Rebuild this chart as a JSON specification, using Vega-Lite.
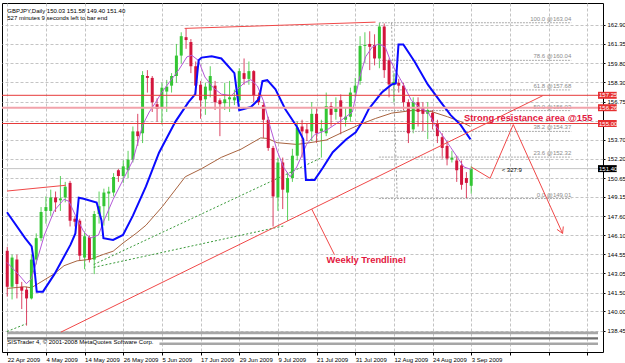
{
  "$schema": "https://vega.github.io/schema/vega-lite/v6.json",
  "width": 601,
  "height": 349,
  "autosize": {"type": "none"},
  "padding": {"left": 2, "top": 3, "right": 22, "bottom": 11},
  "background": "#ffffff",
  "config": {"view": {"stroke": "#000000", "strokeWidth": 1}, "font": "Liberation Sans",
    "axis": {"title": null, "labelOverlap": false, "labelBound": false, "labelFlush": false, "labelFont": "Liberation Sans", "labelFontSize": 6, "labelColor": "#000000", "tickColor": "#000000", "domain": false, "grid": true, "gridColor": "#c4c4c4", "gridDash": [3, 2]}},
  "datasets": {
    "candles": [
      {"i":0,"o":144.84,"h":145.15,"l":141.19,"c":141.97},
      {"i":1,"o":141.97,"h":144.53,"l":140.96,"c":144.30},
      {"i":2,"o":144.14,"h":144.53,"l":141.04,"c":142.20},
      {"i":3,"o":141.97,"h":142.36,"l":140.19,"c":141.66},
      {"i":4,"o":141.74,"h":141.97,"l":138.87,"c":141.04},
      {"i":5,"o":141.04,"h":144.53,"l":140.96,"c":144.14},
      {"i":6,"o":144.14,"h":146.23,"l":143.75,"c":145.85},
      {"i":7,"o":145.85,"h":148.33,"l":145.61,"c":147.94},
      {"i":8,"o":148.02,"h":149.18,"l":147.01,"c":148.33},
      {"i":9,"o":148.02,"h":149.72,"l":147.63,"c":149.10},
      {"i":10,"o":149.10,"h":149.57,"l":147.94,"c":148.71},
      {"i":11,"o":148.87,"h":150.81,"l":148.02,"c":149.02},
      {"i":12,"o":149.10,"h":150.34,"l":148.71,"c":149.95},
      {"i":13,"o":150.26,"h":150.42,"l":146.78,"c":147.24},
      {"i":14,"o":147.40,"h":147.63,"l":146.78,"c":147.16},
      {"i":15,"o":147.24,"h":147.40,"l":144.06,"c":144.45},
      {"i":16,"o":144.30,"h":146.39,"l":143.37,"c":146.00},
      {"i":17,"o":145.92,"h":146.08,"l":143.91,"c":144.14},
      {"i":18,"o":144.14,"h":148.02,"l":142.98,"c":147.78},
      {"i":19,"o":147.78,"h":149.57,"l":147.01,"c":148.40},
      {"i":20,"o":148.40,"h":149.80,"l":146.85,"c":149.49},
      {"i":21,"o":149.41,"h":149.95,"l":147.24,"c":149.57},
      {"i":22,"o":149.49,"h":151.04,"l":149.18,"c":150.73},
      {"i":23,"o":151.27,"h":151.43,"l":150.34,"c":150.81},
      {"i":24,"o":150.81,"h":152.05,"l":150.26,"c":151.58},
      {"i":25,"o":151.27,"h":152.82,"l":150.65,"c":152.12},
      {"i":26,"o":152.12,"h":154.76,"l":151.89,"c":154.37},
      {"i":27,"o":154.37,"h":155.77,"l":153.21,"c":153.99},
      {"i":28,"o":154.22,"h":159.18,"l":153.44,"c":158.87},
      {"i":29,"o":158.79,"h":159.26,"l":157.47,"c":158.64},
      {"i":30,"o":158.64,"h":158.79,"l":155.92,"c":156.70},
      {"i":31,"o":156.54,"h":157.01,"l":155.15,"c":156.16},
      {"i":32,"o":156.31,"h":158.25,"l":154.92,"c":157.86},
      {"i":33,"o":157.55,"h":158.48,"l":155.92,"c":157.94},
      {"i":34,"o":158.02,"h":159.02,"l":157.47,"c":158.79},
      {"i":35,"o":158.79,"h":161.35,"l":158.25,"c":160.42},
      {"i":36,"o":160.42,"h":162.28,"l":159.80,"c":161.97},
      {"i":37,"o":161.89,"h":162.59,"l":160.96,"c":161.66},
      {"i":38,"o":161.50,"h":161.74,"l":159.02,"c":159.57},
      {"i":39,"o":159.57,"h":159.95,"l":157.24,"c":158.02},
      {"i":40,"o":158.09,"h":158.40,"l":155.38,"c":156.85},
      {"i":41,"o":156.93,"h":158.25,"l":155.69,"c":157.94},
      {"i":42,"o":157.63,"h":159.57,"l":157.09,"c":158.79},
      {"i":43,"o":158.02,"h":158.40,"l":156.08,"c":156.70},
      {"i":44,"o":156.85,"h":157.01,"l":153.99,"c":156.54},
      {"i":45,"o":156.62,"h":158.25,"l":156.08,"c":156.93},
      {"i":46,"o":156.93,"h":158.40,"l":155.92,"c":157.09},
      {"i":47,"o":156.85,"h":157.70,"l":156.47,"c":157.09},
      {"i":48,"o":156.85,"h":159.41,"l":156.70,"c":159.18},
      {"i":49,"o":159.02,"h":160.19,"l":158.09,"c":158.56},
      {"i":50,"o":158.56,"h":159.95,"l":158.09,"c":159.18},
      {"i":51,"o":159.18,"h":159.26,"l":156.70,"c":157.24},
      {"i":52,"o":157.09,"h":157.47,"l":156.47,"c":156.70},
      {"i":53,"o":156.47,"h":156.70,"l":153.83,"c":155.30},
      {"i":54,"o":155.30,"h":155.54,"l":152.82,"c":153.05},
      {"i":55,"o":153.05,"h":153.21,"l":146.78,"c":149.18},
      {"i":56,"o":149.10,"h":152.28,"l":148.02,"c":151.89},
      {"i":57,"o":151.89,"h":152.28,"l":148.17,"c":149.72},
      {"i":58,"o":149.49,"h":151.12,"l":147.24,"c":150.65},
      {"i":59,"o":150.65,"h":152.98,"l":150.34,"c":152.43},
      {"i":60,"o":152.43,"h":155.15,"l":152.05,"c":154.68},
      {"i":61,"o":154.76,"h":155.30,"l":152.28,"c":154.37},
      {"i":62,"o":154.53,"h":154.99,"l":153.60,"c":154.22},
      {"i":63,"o":154.37,"h":156.70,"l":153.60,"c":155.77},
      {"i":64,"o":155.77,"h":156.31,"l":153.44,"c":154.22},
      {"i":65,"o":154.37,"h":155.30,"l":152.28,"c":154.60},
      {"i":66,"o":154.22,"h":157.47,"l":153.99,"c":156.39},
      {"i":67,"o":156.39,"h":156.70,"l":154.76,"c":155.69},
      {"i":68,"o":155.92,"h":157.09,"l":155.30,"c":156.23},
      {"i":69,"o":156.85,"h":157.32,"l":154.14,"c":155.54},
      {"i":70,"o":155.30,"h":156.31,"l":154.76,"c":155.54},
      {"i":71,"o":155.54,"h":157.86,"l":155.15,"c":157.47},
      {"i":72,"o":157.47,"h":158.64,"l":157.09,"c":158.02},
      {"i":73,"o":158.40,"h":161.97,"l":158.09,"c":161.19},
      {"i":74,"o":161.19,"h":162.28,"l":159.80,"c":161.27},
      {"i":75,"o":161.35,"h":162.36,"l":159.26,"c":161.12},
      {"i":76,"o":161.27,"h":162.12,"l":159.64,"c":160.19},
      {"i":77,"o":160.19,"h":163.04,"l":159.41,"c":162.74},
      {"i":78,"o":162.74,"h":162.98,"l":158.64,"c":159.26},
      {"i":79,"o":160.05,"h":160.19,"l":157.09,"c":158.12},
      {"i":80,"o":158.09,"h":159.02,"l":156.70,"c":158.33},
      {"i":81,"o":158.25,"h":158.56,"l":157.47,"c":158.02},
      {"i":82,"o":158.02,"h":158.25,"l":156.08,"c":156.70},
      {"i":83,"o":156.70,"h":156.93,"l":153.44,"c":154.22},
      {"i":84,"o":154.53,"h":157.09,"l":154.22,"c":156.70},
      {"i":85,"o":156.70,"h":157.09,"l":154.76,"c":155.92},
      {"i":86,"o":156.31,"h":156.70,"l":154.37,"c":155.77},
      {"i":87,"o":155.77,"h":156.70,"l":153.75,"c":156.08},
      {"i":88,"o":155.85,"h":156.08,"l":154.53,"c":155.15},
      {"i":89,"o":154.99,"h":155.30,"l":153.44,"c":153.99},
      {"i":90,"o":153.91,"h":154.22,"l":152.20,"c":153.05},
      {"i":91,"o":153.21,"h":153.60,"l":151.66,"c":152.20},
      {"i":92,"o":152.12,"h":152.82,"l":151.89,"c":152.28},
      {"i":93,"o":152.05,"h":152.43,"l":150.34,"c":151.27},
      {"i":94,"o":151.66,"h":152.05,"l":149.72,"c":150.11},
      {"i":95,"o":150.65,"h":151.12,"l":149.02,"c":150.26},
      {"i":96,"o":150.03,"h":151.58,"l":149.40,"c":151.40}
    ],
    "blue": [
      {"i":-0.05,"p":147.92},{"i":3.7,"p":145.85},{"i":5.05,"p":145.20},{"i":5.4,"p":144.30},
      {"i":6.1,"p":141.58},{"i":7.4,"p":141.58},{"i":9.8,"p":143.00},{"i":13.1,"p":145.33},
      {"i":14.1,"p":146.23},{"i":14.8,"p":149.08},{"i":15.8,"p":149.00},{"i":18.5,"p":148.69},
      {"i":19.5,"p":147.26},{"i":19.9,"p":145.85},{"i":21.9,"p":145.71},{"i":23.95,"p":146.10},
      {"i":26.0,"p":147.65},{"i":28.7,"p":149.98},{"i":31.4,"p":152.67},{"i":34.8,"p":155.15},
      {"i":37.5,"p":156.70},{"i":38.9,"p":157.34},{"i":39.6,"p":160.05},{"i":40.2,"p":160.26},
      {"i":42.3,"p":160.37},{"i":44.3,"p":160.19},{"i":47.0,"p":159.02},{"i":48.0,"p":156.06},
      {"i":50.4,"p":156.31},{"i":52.1,"p":156.95},{"i":52.8,"p":158.38},{"i":53.8,"p":158.46},
      {"i":55.5,"p":157.73},{"i":57.5,"p":156.16},{"i":59.9,"p":154.76},{"i":61.25,"p":153.75},
      {"i":61.8,"p":150.50},{"i":63.6,"p":150.50},{"i":65.3,"p":151.47},{"i":67.35,"p":152.71},
      {"i":70.1,"p":153.73},{"i":72.1,"p":154.30},{"i":73.5,"p":155.15},{"i":74.8,"p":156.16},
      {"i":77.5,"p":157.47},{"i":79.55,"p":158.12},{"i":80.4,"p":158.20},{"i":80.95,"p":161.31},
      {"i":81.95,"p":161.31},{"i":84.3,"p":159.93},{"i":87.0,"p":158.12},{"i":89.7,"p":156.70},
      {"i":91.75,"p":155.67},{"i":93.8,"p":154.89},{"i":95.85,"p":153.73}
    ],
    "violet": [
      {"i":-0.05,"p":143.91},{"i":2.25,"p":142.99},{"i":3.96,"p":142.22},{"i":4.97,"p":142.59},
      {"i":6.32,"p":144.30},{"i":7.68,"p":146.10},{"i":9.72,"p":148.04},{"i":11.75,"p":148.95},
      {"i":12.77,"p":148.79},{"i":14.13,"p":147.65},{"i":15.82,"p":146.37},{"i":17.18,"p":145.85},
      {"i":18.87,"p":146.10},{"i":19.89,"p":147.14},{"i":21.92,"p":148.95},{"i":23.96,"p":150.50},
      {"i":25.99,"p":152.05},{"i":28.03,"p":154.89},{"i":29.39,"p":155.92},{"i":30.73,"p":156.70},
      {"i":31.95,"p":157.47},{"i":33.46,"p":158.25},{"i":35.49,"p":159.28},{"i":37.18,"p":160.32},
      {"i":38.2,"p":160.44},{"i":39.56,"p":160.03},{"i":40.9,"p":158.71},{"i":42.61,"p":157.86},
      {"i":44.3,"p":157.34},{"i":46.34,"p":157.22},{"i":47.7,"p":157.73},{"i":49.04,"p":158.25},
      {"i":50.41,"p":158.50},{"i":51.77,"p":157.99},{"i":53.11,"p":156.70},{"i":54.48,"p":154.63},
      {"i":55.84,"p":152.82},{"i":57.18,"p":151.50},{"i":58.54,"p":150.75},{"i":59.9,"p":151.53},
      {"i":61.94,"p":153.34},{"i":63.63,"p":154.12},{"i":66.0,"p":154.45},{"i":68.72,"p":155.15},
      {"i":71.42,"p":155.92},{"i":72.79,"p":158.50},{"i":74.15,"p":160.32},{"i":75.49,"p":161.09},
      {"i":76.86,"p":161.35},{"i":78.22,"p":161.09},{"i":79.24,"p":160.05},{"i":80.25,"p":159.28},
      {"i":81.94,"p":158.12},{"i":83.63,"p":156.83},{"i":85.66,"p":156.18},{"i":87.03,"p":155.92},
      {"i":88.72,"p":154.76},{"i":90.43,"p":153.85},{"i":91.77,"p":153.08},{"i":93.13,"p":152.30},
      {"i":94.5,"p":151.53},{"i":95.98,"p":151.33}
    ],
    "brown": [
      {"i":-0.05,"p":141.84},{"i":3.61,"p":141.97},{"i":4.97,"p":141.89},{"i":7.01,"p":142.36},
      {"i":9.72,"p":143.00},{"i":11.75,"p":143.65},{"i":14.46,"p":144.04},{"i":17.18,"p":144.16},
      {"i":19.89,"p":144.55},{"i":21.92,"p":144.81},{"i":23.96,"p":145.46},{"i":26.66,"p":146.23},
      {"i":28.7,"p":146.88},{"i":32.1,"p":148.37},{"i":36.84,"p":150.75},{"i":40.23,"p":151.40},
      {"i":44.3,"p":152.30},{"i":48.37,"p":152.95},{"i":52.44,"p":153.85},{"i":53.8,"p":153.81},
      {"i":55.84,"p":153.47},{"i":59.9,"p":153.33},{"i":62.61,"p":153.47},{"i":66.0,"p":153.68},
      {"i":69.39,"p":154.30},{"i":72.79,"p":154.89},{"i":76.18,"p":155.40},{"i":79.56,"p":155.83},
      {"i":84.32,"p":156.06},{"i":87.7,"p":155.96},{"i":91.1,"p":155.54},{"i":93.81,"p":155.15},
      {"i":95.84,"p":154.76}
    ],
    "greens": [
      {"id":"g1","i":17.9,"p":143.75},{"id":"g1","i":65.1,"p":152.28},
      {"id":"g2","i":17.9,"p":143.52},{"id":"g2","i":57.5,"p":146.85},
      {"id":"g3","i":-0.05,"p":138.40},{"id":"g3","i":3.96,"p":139.02}
    ],
    "redlines": [
      {"id":"trend","i":11.1,"p":138.35},{"id":"trend","i":110.8,"p":157.22},
      {"id":"pointer","i":63.0,"p":148.17},{"id":"pointer","i":67.7,"p":144.53},
      {"id":"top","i":36.7,"p":162.59},{"id":"top","i":76.2,"p":163.09},
      {"id":"left","i":-0.05,"p":149.61},{"id":"left","i":12.1,"p":150.07},
      {"id":"zigzag","i":96.0,"p":151.53},{"id":"zigzag","i":99.9,"p":150.63},
      {"id":"zigzag","i":104.7,"p":154.92},{"id":"zigzag","i":114.9,"p":146.23},
      {"id":"wing1","i":114.9,"p":146.23},{"id":"wing1","i":115.05,"p":146.78},
      {"id":"wing2","i":113.74,"p":146.55},{"id":"wing2","i":114.9,"p":146.23}
    ],
    "fib": [
      {"i1":76.9,"i2":116.7,"p":163.04,"label":"100.0 @163.04"},
      {"i1":76.9,"i2":116.7,"p":160.04,"label":"78.6 @160.04"},
      {"i1":76.9,"i2":116.7,"p":157.68,"label":"61.8 @157.68"},
      {"i1":76.9,"i2":116.7,"p":156.03,"label":"50.0 @156.03"},
      {"i1":76.9,"i2":116.7,"p":154.37,"label":"38.2 @154.37"},
      {"i1":76.9,"i2":116.7,"p":152.32,"label":"23.6 @152.32"},
      {"i1":76.9,"i2":116.7,"p":149.01,"label":"0.0 @149.01"}
    ],
    "fibtrend": [{"i":79.5,"p":163.04},{"i":80.7,"p":149.01}],
    "stripes": [
      {"i1":-0.05,"i2":122.23,"p1":138.19,"p2":138.40,"band":"light"},
      {"i1":-0.05,"i2":122.23,"p1":137.76,"p2":137.94,"band":"dark"},
      {"i1":31.5,"i2":122.23,"p1":137.32,"p2":137.53,"band":"light"}
    ],
    "tags": [
      {"p":157.25,"label":"157.25","kind":"line"},
      {"p":156.26,"label":"156.26","kind":"line"},
      {"p":155.00,"label":"155.00","kind":"line"},
      {"p":151.40,"label":"151.40","kind":"bid"}
    ]
  },
  "layer": [
    {
      "data": {"name": "candles"},
      "mark": {"type": "rule", "strokeWidth": 1, "opacity": 0.8},
      "encoding": {
        "x": {"field": "i", "type": "quantitative", "scale": {"domain": [-0.05, 122.23], "nice": false, "zero": false},
          "axis": {"orient": "bottom", "values": [0, 8, 16, 24, 32, 40, 48, 56, 64, 72, 80, 88, 96, 104, 112, 120], "labelExpr": "['22 Apr 2009','4 May 2009','14 May 2009','26 May 2009','5 Jun 2009','17 Jun 2009','29 Jun 2009','9 Jul 2009','21 Jul 2009','31 Jul 2009','12 Aug 2009','24 Aug 2009','3 Sep 2009','','',''][round(datum.value/8)]", "labelAlign": "left", "labelBaseline": "top", "labelPadding": 1, "labelOverlap": false, "tickSize": 3, "title": null}},
        "y": {"field": "l", "type": "quantitative", "scale": {"domain": [137.163, 164.218], "nice": false, "zero": false},
          "axis": {"orient": "right", "values": [162.9, 161.35, 159.8, 158.3, 156.75, 155.2, 153.7, 152.2, 150.65, 149.15, 147.6, 146.1, 144.55, 143.05, 141.5, 140, 138.45], "labelExpr": "datum.value == 155.2 ? '' : format(datum.value, '.2f')", "labelAlign": "left", "labelBaseline": "middle", "labelPadding": 2, "labelOverlap": false, "tickSize": 2, "title": null}},
        "y2": {"field": "h"},
        "color": {"condition": {"test": "datum.c >= datum.o", "value": "#33c633"}, "value": "#d3153c"}
      }
    },
    {
      "data": {"name": "stripes"},
      "mark": {"type": "rect"},
      "encoding": {
        "x": {"field": "i1", "type": "quantitative", "scale": {"domain": [-0.05, 122.23], "nice": false, "zero": false},
          "axis": {"orient": "bottom", "values": [0, 8, 16, 24, 32, 40, 48, 56, 64, 72, 80, 88, 96, 104, 112, 120], "labelExpr": "['22 Apr 2009','4 May 2009','14 May 2009','26 May 2009','5 Jun 2009','17 Jun 2009','29 Jun 2009','9 Jul 2009','21 Jul 2009','31 Jul 2009','12 Aug 2009','24 Aug 2009','3 Sep 2009','','',''][round(datum.value/8)]", "labelAlign": "left", "labelBaseline": "top", "labelPadding": 1, "labelOverlap": false, "tickSize": 3, "title": null}},
        "x2": {"field": "i2"},
        "y": {"field": "p1", "type": "quantitative", "scale": {"domain": [137.163, 164.218], "nice": false, "zero": false},
          "axis": {"orient": "right", "values": [162.9, 161.35, 159.8, 158.3, 156.75, 155.2, 153.7, 152.2, 150.65, 149.15, 147.6, 146.1, 144.55, 143.05, 141.5, 140, 138.45], "labelExpr": "datum.value == 155.2 ? '' : format(datum.value, '.2f')", "labelAlign": "left", "labelBaseline": "middle", "labelPadding": 2, "labelOverlap": false, "tickSize": 2, "title": null}},
        "y2": {"field": "p2"},
        "color": {"field": "band", "type": "nominal", "scale": {"domain": ["light", "dark"], "range": ["#a6a6a6", "#6f6f6f"]}, "legend": null}
      }
    },
    {
      "data": {"name": "fib"},
      "mark": {"type": "rule", "color": "#ababab", "strokeDash": [2, 1], "strokeWidth": 1},
      "encoding": {
        "x": {"field": "i1", "type": "quantitative", "scale": {"domain": [-0.05, 122.23], "nice": false, "zero": false},
          "axis": {"orient": "bottom", "values": [0, 8, 16, 24, 32, 40, 48, 56, 64, 72, 80, 88, 96, 104, 112, 120], "labelExpr": "['22 Apr 2009','4 May 2009','14 May 2009','26 May 2009','5 Jun 2009','17 Jun 2009','29 Jun 2009','9 Jul 2009','21 Jul 2009','31 Jul 2009','12 Aug 2009','24 Aug 2009','3 Sep 2009','','',''][round(datum.value/8)]", "labelAlign": "left", "labelBaseline": "top", "labelPadding": 1, "labelOverlap": false, "tickSize": 3, "title": null}},
        "x2": {"field": "i2"},
        "y": {"field": "p", "type": "quantitative", "scale": {"domain": [137.163, 164.218], "nice": false, "zero": false},
          "axis": {"orient": "right", "values": [162.9, 161.35, 159.8, 158.3, 156.75, 155.2, 153.7, 152.2, 150.65, 149.15, 147.6, 146.1, 144.55, 143.05, 141.5, 140, 138.45], "labelExpr": "datum.value == 155.2 ? '' : format(datum.value, '.2f')", "labelAlign": "left", "labelBaseline": "middle", "labelPadding": 2, "labelOverlap": false, "tickSize": 2, "title": null}}
      }
    },
    {
      "data": {"name": "fib"},
      "mark": {"type": "text", "align": "right", "baseline": "bottom", "dy": -1, "fontSize": 6, "font": "Liberation Sans", "color": "#8c8c8c"},
      "encoding": {
        "x": {"field": "i2", "type": "quantitative", "scale": {"domain": [-0.05, 122.23], "nice": false, "zero": false},
          "axis": {"orient": "bottom", "values": [0, 8, 16, 24, 32, 40, 48, 56, 64, 72, 80, 88, 96, 104, 112, 120], "labelExpr": "['22 Apr 2009','4 May 2009','14 May 2009','26 May 2009','5 Jun 2009','17 Jun 2009','29 Jun 2009','9 Jul 2009','21 Jul 2009','31 Jul 2009','12 Aug 2009','24 Aug 2009','3 Sep 2009','','',''][round(datum.value/8)]", "labelAlign": "left", "labelBaseline": "top", "labelPadding": 1, "labelOverlap": false, "tickSize": 3, "title": null}},
        "y": {"field": "p", "type": "quantitative", "scale": {"domain": [137.163, 164.218], "nice": false, "zero": false},
          "axis": {"orient": "right", "values": [162.9, 161.35, 159.8, 158.3, 156.75, 155.2, 153.7, 152.2, 150.65, 149.15, 147.6, 146.1, 144.55, 143.05, 141.5, 140, 138.45], "labelExpr": "datum.value == 155.2 ? '' : format(datum.value, '.2f')", "labelAlign": "left", "labelBaseline": "middle", "labelPadding": 2, "labelOverlap": false, "tickSize": 2, "title": null}},
        "text": {"field": "label"}
      }
    },
    {
      "data": {"name": "fibtrend"},
      "mark": {"type": "line", "color": "#a0a0a0", "strokeDash": [2, 2], "strokeWidth": 1},
      "encoding": {
        "x": {"field": "i", "type": "quantitative", "scale": {"domain": [-0.05, 122.23], "nice": false, "zero": false},
          "axis": {"orient": "bottom", "values": [0, 8, 16, 24, 32, 40, 48, 56, 64, 72, 80, 88, 96, 104, 112, 120], "labelExpr": "['22 Apr 2009','4 May 2009','14 May 2009','26 May 2009','5 Jun 2009','17 Jun 2009','29 Jun 2009','9 Jul 2009','21 Jul 2009','31 Jul 2009','12 Aug 2009','24 Aug 2009','3 Sep 2009','','',''][round(datum.value/8)]", "labelAlign": "left", "labelBaseline": "top", "labelPadding": 1, "labelOverlap": false, "tickSize": 3, "title": null}},
        "y": {"field": "p", "type": "quantitative", "scale": {"domain": [137.163, 164.218], "nice": false, "zero": false},
          "axis": {"orient": "right", "values": [162.9, 161.35, 159.8, 158.3, 156.75, 155.2, 153.7, 152.2, 150.65, 149.15, 147.6, 146.1, 144.55, 143.05, 141.5, 140, 138.45], "labelExpr": "datum.value == 155.2 ? '' : format(datum.value, '.2f')", "labelAlign": "left", "labelBaseline": "middle", "labelPadding": 2, "labelOverlap": false, "tickSize": 2, "title": null}}
      }
    },
    {
      "data": {"values": [{"p": 151.40}]},
      "mark": {"type": "rule", "color": "#c4c4c4", "strokeWidth": 1},
      "encoding": {
        "y": {"field": "p", "type": "quantitative", "scale": {"domain": [137.163, 164.218], "nice": false, "zero": false},
          "axis": {"orient": "right", "values": [162.9, 161.35, 159.8, 158.3, 156.75, 155.2, 153.7, 152.2, 150.65, 149.15, 147.6, 146.1, 144.55, 143.05, 141.5, 140, 138.45], "labelExpr": "datum.value == 155.2 ? '' : format(datum.value, '.2f')", "labelAlign": "left", "labelBaseline": "middle", "labelPadding": 2, "labelOverlap": false, "tickSize": 2, "title": null}}
      }
    },
    {
      "data": {"name": "brown"},
      "mark": {"type": "line", "color": "#a8633f", "strokeWidth": 1},
      "encoding": {
        "x": {"field": "i", "type": "quantitative", "scale": {"domain": [-0.05, 122.23], "nice": false, "zero": false},
          "axis": {"orient": "bottom", "values": [0, 8, 16, 24, 32, 40, 48, 56, 64, 72, 80, 88, 96, 104, 112, 120], "labelExpr": "['22 Apr 2009','4 May 2009','14 May 2009','26 May 2009','5 Jun 2009','17 Jun 2009','29 Jun 2009','9 Jul 2009','21 Jul 2009','31 Jul 2009','12 Aug 2009','24 Aug 2009','3 Sep 2009','','',''][round(datum.value/8)]", "labelAlign": "left", "labelBaseline": "top", "labelPadding": 1, "labelOverlap": false, "tickSize": 3, "title": null}},
        "y": {"field": "p", "type": "quantitative", "scale": {"domain": [137.163, 164.218], "nice": false, "zero": false},
          "axis": {"orient": "right", "values": [162.9, 161.35, 159.8, 158.3, 156.75, 155.2, 153.7, 152.2, 150.65, 149.15, 147.6, 146.1, 144.55, 143.05, 141.5, 140, 138.45], "labelExpr": "datum.value == 155.2 ? '' : format(datum.value, '.2f')", "labelAlign": "left", "labelBaseline": "middle", "labelPadding": 2, "labelOverlap": false, "tickSize": 2, "title": null}}
      }
    },
    {
      "data": {"name": "greens"},
      "mark": {"type": "line", "color": "#3a9a3a", "strokeDash": [2, 2], "strokeWidth": 1},
      "encoding": {
        "x": {"field": "i", "type": "quantitative", "scale": {"domain": [-0.05, 122.23], "nice": false, "zero": false},
          "axis": {"orient": "bottom", "values": [0, 8, 16, 24, 32, 40, 48, 56, 64, 72, 80, 88, 96, 104, 112, 120], "labelExpr": "['22 Apr 2009','4 May 2009','14 May 2009','26 May 2009','5 Jun 2009','17 Jun 2009','29 Jun 2009','9 Jul 2009','21 Jul 2009','31 Jul 2009','12 Aug 2009','24 Aug 2009','3 Sep 2009','','',''][round(datum.value/8)]", "labelAlign": "left", "labelBaseline": "top", "labelPadding": 1, "labelOverlap": false, "tickSize": 3, "title": null}},
        "y": {"field": "p", "type": "quantitative", "scale": {"domain": [137.163, 164.218], "nice": false, "zero": false},
          "axis": {"orient": "right", "values": [162.9, 161.35, 159.8, 158.3, 156.75, 155.2, 153.7, 152.2, 150.65, 149.15, 147.6, 146.1, 144.55, 143.05, 141.5, 140, 138.45], "labelExpr": "datum.value == 155.2 ? '' : format(datum.value, '.2f')", "labelAlign": "left", "labelBaseline": "middle", "labelPadding": 2, "labelOverlap": false, "tickSize": 2, "title": null}},
        "detail": {"field": "id"}
      }
    },
    {
      "data": {"name": "candles"},
      "mark": {"type": "bar", "size": 3},
      "encoding": {
        "x": {"field": "i", "type": "quantitative", "scale": {"domain": [-0.05, 122.23], "nice": false, "zero": false},
          "axis": {"orient": "bottom", "values": [0, 8, 16, 24, 32, 40, 48, 56, 64, 72, 80, 88, 96, 104, 112, 120], "labelExpr": "['22 Apr 2009','4 May 2009','14 May 2009','26 May 2009','5 Jun 2009','17 Jun 2009','29 Jun 2009','9 Jul 2009','21 Jul 2009','31 Jul 2009','12 Aug 2009','24 Aug 2009','3 Sep 2009','','',''][round(datum.value/8)]", "labelAlign": "left", "labelBaseline": "top", "labelPadding": 1, "labelOverlap": false, "tickSize": 3, "title": null}},
        "y": {"field": "o", "type": "quantitative", "scale": {"domain": [137.163, 164.218], "nice": false, "zero": false},
          "axis": {"orient": "right", "values": [162.9, 161.35, 159.8, 158.3, 156.75, 155.2, 153.7, 152.2, 150.65, 149.15, 147.6, 146.1, 144.55, 143.05, 141.5, 140, 138.45], "labelExpr": "datum.value == 155.2 ? '' : format(datum.value, '.2f')", "labelAlign": "left", "labelBaseline": "middle", "labelPadding": 2, "labelOverlap": false, "tickSize": 2, "title": null}},
        "y2": {"field": "c"},
        "color": {"condition": {"test": "datum.c >= datum.o", "value": "#33c633"}, "value": "#d3153c"}
      }
    },
    {
      "data": {"name": "violet"},
      "mark": {"type": "line", "color": "#b45ad8", "strokeWidth": 1},
      "encoding": {
        "x": {"field": "i", "type": "quantitative", "scale": {"domain": [-0.05, 122.23], "nice": false, "zero": false},
          "axis": {"orient": "bottom", "values": [0, 8, 16, 24, 32, 40, 48, 56, 64, 72, 80, 88, 96, 104, 112, 120], "labelExpr": "['22 Apr 2009','4 May 2009','14 May 2009','26 May 2009','5 Jun 2009','17 Jun 2009','29 Jun 2009','9 Jul 2009','21 Jul 2009','31 Jul 2009','12 Aug 2009','24 Aug 2009','3 Sep 2009','','',''][round(datum.value/8)]", "labelAlign": "left", "labelBaseline": "top", "labelPadding": 1, "labelOverlap": false, "tickSize": 3, "title": null}},
        "y": {"field": "p", "type": "quantitative", "scale": {"domain": [137.163, 164.218], "nice": false, "zero": false},
          "axis": {"orient": "right", "values": [162.9, 161.35, 159.8, 158.3, 156.75, 155.2, 153.7, 152.2, 150.65, 149.15, 147.6, 146.1, 144.55, 143.05, 141.5, 140, 138.45], "labelExpr": "datum.value == 155.2 ? '' : format(datum.value, '.2f')", "labelAlign": "left", "labelBaseline": "middle", "labelPadding": 2, "labelOverlap": false, "tickSize": 2, "title": null}}
      }
    },
    {
      "data": {"name": "blue"},
      "mark": {"type": "line", "color": "#0a0aff", "strokeWidth": 2},
      "encoding": {
        "x": {"field": "i", "type": "quantitative", "scale": {"domain": [-0.05, 122.23], "nice": false, "zero": false},
          "axis": {"orient": "bottom", "values": [0, 8, 16, 24, 32, 40, 48, 56, 64, 72, 80, 88, 96, 104, 112, 120], "labelExpr": "['22 Apr 2009','4 May 2009','14 May 2009','26 May 2009','5 Jun 2009','17 Jun 2009','29 Jun 2009','9 Jul 2009','21 Jul 2009','31 Jul 2009','12 Aug 2009','24 Aug 2009','3 Sep 2009','','',''][round(datum.value/8)]", "labelAlign": "left", "labelBaseline": "top", "labelPadding": 1, "labelOverlap": false, "tickSize": 3, "title": null}},
        "y": {"field": "p", "type": "quantitative", "scale": {"domain": [137.163, 164.218], "nice": false, "zero": false},
          "axis": {"orient": "right", "values": [162.9, 161.35, 159.8, 158.3, 156.75, 155.2, 153.7, 152.2, 150.65, 149.15, 147.6, 146.1, 144.55, 143.05, 141.5, 140, 138.45], "labelExpr": "datum.value == 155.2 ? '' : format(datum.value, '.2f')", "labelAlign": "left", "labelBaseline": "middle", "labelPadding": 2, "labelOverlap": false, "tickSize": 2, "title": null}}
      }
    },
    {
      "data": {"values": [{"p": 156.26}]},
      "mark": {"type": "rule", "color": "#f2a3ab", "strokeWidth": 2},
      "encoding": {
        "y": {"field": "p", "type": "quantitative", "scale": {"domain": [137.163, 164.218], "nice": false, "zero": false},
          "axis": {"orient": "right", "values": [162.9, 161.35, 159.8, 158.3, 156.75, 155.2, 153.7, 152.2, 150.65, 149.15, 147.6, 146.1, 144.55, 143.05, 141.5, 140, 138.45], "labelExpr": "datum.value == 155.2 ? '' : format(datum.value, '.2f')", "labelAlign": "left", "labelBaseline": "middle", "labelPadding": 2, "labelOverlap": false, "tickSize": 2, "title": null}}
      }
    },
    {
      "data": {"values": [{"p": 157.25}, {"p": 155.00}]},
      "mark": {"type": "rule", "color": "#e63a3a", "strokeWidth": 1},
      "encoding": {
        "y": {"field": "p", "type": "quantitative", "scale": {"domain": [137.163, 164.218], "nice": false, "zero": false},
          "axis": {"orient": "right", "values": [162.9, 161.35, 159.8, 158.3, 156.75, 155.2, 153.7, 152.2, 150.65, 149.15, 147.6, 146.1, 144.55, 143.05, 141.5, 140, 138.45], "labelExpr": "datum.value == 155.2 ? '' : format(datum.value, '.2f')", "labelAlign": "left", "labelBaseline": "middle", "labelPadding": 2, "labelOverlap": false, "tickSize": 2, "title": null}}
      }
    },
    {
      "data": {"name": "redlines"},
      "mark": {"type": "line", "color": "#f04848", "strokeWidth": 1},
      "encoding": {
        "x": {"field": "i", "type": "quantitative", "scale": {"domain": [-0.05, 122.23], "nice": false, "zero": false},
          "axis": {"orient": "bottom", "values": [0, 8, 16, 24, 32, 40, 48, 56, 64, 72, 80, 88, 96, 104, 112, 120], "labelExpr": "['22 Apr 2009','4 May 2009','14 May 2009','26 May 2009','5 Jun 2009','17 Jun 2009','29 Jun 2009','9 Jul 2009','21 Jul 2009','31 Jul 2009','12 Aug 2009','24 Aug 2009','3 Sep 2009','','',''][round(datum.value/8)]", "labelAlign": "left", "labelBaseline": "top", "labelPadding": 1, "labelOverlap": false, "tickSize": 3, "title": null}},
        "y": {"field": "p", "type": "quantitative", "scale": {"domain": [137.163, 164.218], "nice": false, "zero": false},
          "axis": {"orient": "right", "values": [162.9, 161.35, 159.8, 158.3, 156.75, 155.2, 153.7, 152.2, 150.65, 149.15, 147.6, 146.1, 144.55, 143.05, 141.5, 140, 138.45], "labelExpr": "datum.value == 155.2 ? '' : format(datum.value, '.2f')", "labelAlign": "left", "labelBaseline": "middle", "labelPadding": 2, "labelOverlap": false, "tickSize": 2, "title": null}},
        "detail": {"field": "id"}
      }
    },
    {
      "data": {"values": [
        {"i": 0, "p": 163.99, "t": "GBPJPY,Daily  150.03 151.58 149.40 151.40"},
        {"i": 0, "p": 163.42, "t": "527 minutes 9 seconds left to bar end"},
        {"i": 102.3, "p": 151.30, "t": "< 327:9"},
        {"i": 0, "p": 137.55, "t": "SISTrader 4, © 2001-2008 MetaQuotes Software Corp."}
      ]},
      "mark": {"type": "text", "align": "left", "baseline": "middle", "fontSize": 6, "font": "Liberation Sans", "color": "#000000"},
      "encoding": {
        "x": {"field": "i", "type": "quantitative", "scale": {"domain": [-0.05, 122.23], "nice": false, "zero": false},
          "axis": {"orient": "bottom", "values": [0, 8, 16, 24, 32, 40, 48, 56, 64, 72, 80, 88, 96, 104, 112, 120], "labelExpr": "['22 Apr 2009','4 May 2009','14 May 2009','26 May 2009','5 Jun 2009','17 Jun 2009','29 Jun 2009','9 Jul 2009','21 Jul 2009','31 Jul 2009','12 Aug 2009','24 Aug 2009','3 Sep 2009','','',''][round(datum.value/8)]", "labelAlign": "left", "labelBaseline": "top", "labelPadding": 1, "labelOverlap": false, "tickSize": 3, "title": null}},
        "y": {"field": "p", "type": "quantitative", "scale": {"domain": [137.163, 164.218], "nice": false, "zero": false},
          "axis": {"orient": "right", "values": [162.9, 161.35, 159.8, 158.3, 156.75, 155.2, 153.7, 152.2, 150.65, 149.15, 147.6, 146.1, 144.55, 143.05, 141.5, 140, 138.45], "labelExpr": "datum.value == 155.2 ? '' : format(datum.value, '.2f')", "labelAlign": "left", "labelBaseline": "middle", "labelPadding": 2, "labelOverlap": false, "tickSize": 2, "title": null}},
        "text": {"field": "t"}
      }
    },
    {
      "data": {"values": [{"i": 94.5, "p": 155.46, "t": "Strong resistance area @155"}]},
      "mark": {"type": "text", "align": "left", "baseline": "middle", "fontSize": 9.4, "fontWeight": "bold", "font": "Liberation Sans", "color": "#e3173e"},
      "encoding": {
        "x": {"field": "i", "type": "quantitative", "scale": {"domain": [-0.05, 122.23], "nice": false, "zero": false},
          "axis": {"orient": "bottom", "values": [0, 8, 16, 24, 32, 40, 48, 56, 64, 72, 80, 88, 96, 104, 112, 120], "labelExpr": "['22 Apr 2009','4 May 2009','14 May 2009','26 May 2009','5 Jun 2009','17 Jun 2009','29 Jun 2009','9 Jul 2009','21 Jul 2009','31 Jul 2009','12 Aug 2009','24 Aug 2009','3 Sep 2009','','',''][round(datum.value/8)]", "labelAlign": "left", "labelBaseline": "top", "labelPadding": 1, "labelOverlap": false, "tickSize": 3, "title": null}},
        "y": {"field": "p", "type": "quantitative", "scale": {"domain": [137.163, 164.218], "nice": false, "zero": false},
          "axis": {"orient": "right", "values": [162.9, 161.35, 159.8, 158.3, 156.75, 155.2, 153.7, 152.2, 150.65, 149.15, 147.6, 146.1, 144.55, 143.05, 141.5, 140, 138.45], "labelExpr": "datum.value == 155.2 ? '' : format(datum.value, '.2f')", "labelAlign": "left", "labelBaseline": "middle", "labelPadding": 2, "labelOverlap": false, "tickSize": 2, "title": null}},
        "text": {"field": "t"}
      }
    },
    {
      "data": {"values": [{"i": 74.3, "p": 144.09, "t": "Weekly Trendline!"}]},
      "mark": {"type": "text", "align": "center", "baseline": "middle", "fontSize": 9.4, "fontWeight": "bold", "font": "Liberation Sans", "color": "#e3173e"},
      "encoding": {
        "x": {"field": "i", "type": "quantitative", "scale": {"domain": [-0.05, 122.23], "nice": false, "zero": false},
          "axis": {"orient": "bottom", "values": [0, 8, 16, 24, 32, 40, 48, 56, 64, 72, 80, 88, 96, 104, 112, 120], "labelExpr": "['22 Apr 2009','4 May 2009','14 May 2009','26 May 2009','5 Jun 2009','17 Jun 2009','29 Jun 2009','9 Jul 2009','21 Jul 2009','31 Jul 2009','12 Aug 2009','24 Aug 2009','3 Sep 2009','','',''][round(datum.value/8)]", "labelAlign": "left", "labelBaseline": "top", "labelPadding": 1, "labelOverlap": false, "tickSize": 3, "title": null}},
        "y": {"field": "p", "type": "quantitative", "scale": {"domain": [137.163, 164.218], "nice": false, "zero": false},
          "axis": {"orient": "right", "values": [162.9, 161.35, 159.8, 158.3, 156.75, 155.2, 153.7, 152.2, 150.65, 149.15, 147.6, 146.1, 144.55, 143.05, 141.5, 140, 138.45], "labelExpr": "datum.value == 155.2 ? '' : format(datum.value, '.2f')", "labelAlign": "left", "labelBaseline": "middle", "labelPadding": 2, "labelOverlap": false, "tickSize": 2, "title": null}},
        "text": {"field": "t"}
      }
    },
    {
      "data": {"name": "tags"},
      "mark": {"type": "bar", "size": 7, "orient": "horizontal"},
      "encoding": {
        "x": {"datum": 122.23, "type": "quantitative", "scale": {"domain": [-0.05, 122.23], "nice": false, "zero": false},
          "axis": {"orient": "bottom", "values": [0, 8, 16, 24, 32, 40, 48, 56, 64, 72, 80, 88, 96, 104, 112, 120], "labelExpr": "['22 Apr 2009','4 May 2009','14 May 2009','26 May 2009','5 Jun 2009','17 Jun 2009','29 Jun 2009','9 Jul 2009','21 Jul 2009','31 Jul 2009','12 Aug 2009','24 Aug 2009','3 Sep 2009','','',''][round(datum.value/8)]", "labelAlign": "left", "labelBaseline": "top", "labelPadding": 1, "labelOverlap": false, "tickSize": 3, "title": null}},
        "x2": {"datum": 126.1},
        "y": {"field": "p", "type": "quantitative", "scale": {"domain": [137.163, 164.218], "nice": false, "zero": false},
          "axis": {"orient": "right", "values": [162.9, 161.35, 159.8, 158.3, 156.75, 155.2, 153.7, 152.2, 150.65, 149.15, 147.6, 146.1, 144.55, 143.05, 141.5, 140, 138.45], "labelExpr": "datum.value == 155.2 ? '' : format(datum.value, '.2f')", "labelAlign": "left", "labelBaseline": "middle", "labelPadding": 2, "labelOverlap": false, "tickSize": 2, "title": null}},
        "color": {"condition": {"test": "datum.kind == 'bid'", "value": "#000000"}, "value": "#e63030"}
      }
    },
    {
      "data": {"name": "tags"},
      "mark": {"type": "text", "align": "left", "baseline": "middle", "dx": 1, "fontSize": 6, "font": "Liberation Sans", "color": "#ffffff"},
      "encoding": {
        "x": {"datum": 122.23, "type": "quantitative", "scale": {"domain": [-0.05, 122.23], "nice": false, "zero": false},
          "axis": {"orient": "bottom", "values": [0, 8, 16, 24, 32, 40, 48, 56, 64, 72, 80, 88, 96, 104, 112, 120], "labelExpr": "['22 Apr 2009','4 May 2009','14 May 2009','26 May 2009','5 Jun 2009','17 Jun 2009','29 Jun 2009','9 Jul 2009','21 Jul 2009','31 Jul 2009','12 Aug 2009','24 Aug 2009','3 Sep 2009','','',''][round(datum.value/8)]", "labelAlign": "left", "labelBaseline": "top", "labelPadding": 1, "labelOverlap": false, "tickSize": 3, "title": null}},
        "y": {"field": "p", "type": "quantitative", "scale": {"domain": [137.163, 164.218], "nice": false, "zero": false},
          "axis": {"orient": "right", "values": [162.9, 161.35, 159.8, 158.3, 156.75, 155.2, 153.7, 152.2, 150.65, 149.15, 147.6, 146.1, 144.55, 143.05, 141.5, 140, 138.45], "labelExpr": "datum.value == 155.2 ? '' : format(datum.value, '.2f')", "labelAlign": "left", "labelBaseline": "middle", "labelPadding": 2, "labelOverlap": false, "tickSize": 2, "title": null}},
        "text": {"field": "label"}
      }
    }
  ]
}
